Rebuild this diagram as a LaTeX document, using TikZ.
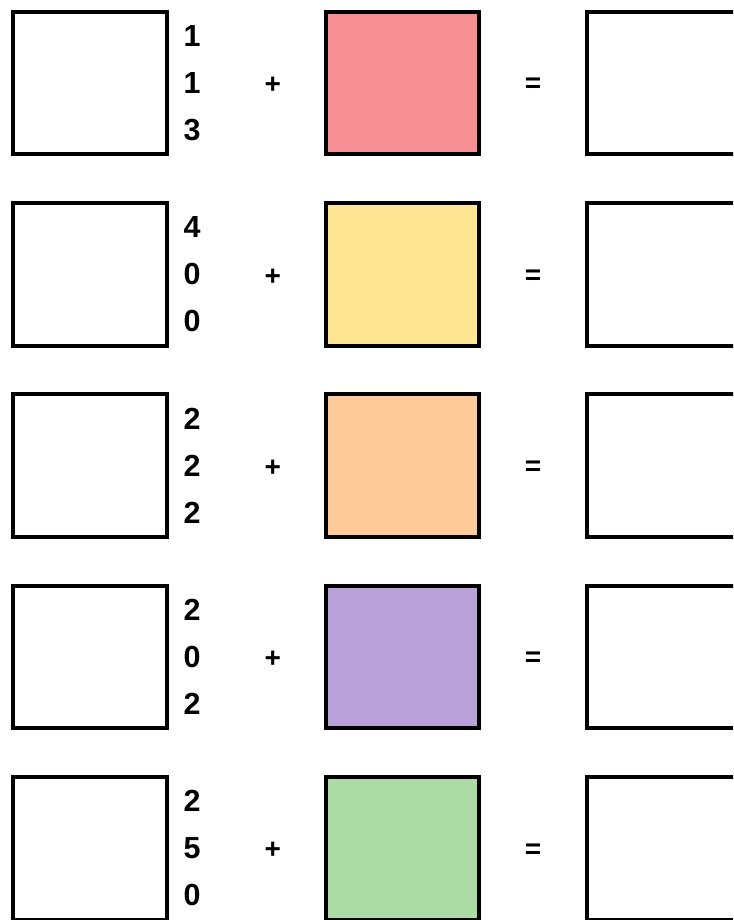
\documentclass[tikz,border=0pt]{standalone}
\usepackage{fontspec}
\setmainfont{Liberation Sans}
\usetikzlibrary{positioning}
\definecolor{addred}{HTML}{F78F93}
\definecolor{addyellow}{HTML}{FFE694}
\definecolor{addorange}{HTML}{FFCA99}
\definecolor{addpurple}{HTML}{B9A1D9}
\definecolor{addgreen}{HTML}{ADDBA5}
\tikzset{
    slot box/.style={
        draw=black,
        line width=4pt,
        minimum width=153.5pt,
        minimum height=142.7pt,
        inner sep=0pt
    },
    digit label/.style={
        font=\bfseries\fontsize{30.5}{30.5}\selectfont,
        inner sep=0pt
    },
    op label/.style={
        font=\bfseries\fontsize{28}{28}\selectfont,
        inner sep=0pt,
        yshift=-2.5pt
    }
}

\begin{document}
\begin{tikzpicture}[x=1pt,y=-1pt]
    \useasboundingbox (0,0) rectangle (733,920);
    \clip (0,0) rectangle (733,920);
    \foreach \row/\da/\db/\dc/\fillcol in {0/1/1/3/addred, 1/4/0/0/addyellow, 2/2/2/2/addorange, 3/2/0/2/addpurple, 4/2/5/0/addgreen}{
        \pgfmathsetmacro\ymid{83.05+191.3*\row}
        % left box, digits, coloured box, right box
        \node[slot box] (in\row) at (89.75,\ymid) {};
        \node[digit label] (dtop\row) at (192,{\ymid-47}) {\da};
        \node[digit label] (dmid\row) at (192,\ymid) {\db};
        \node[digit label] (dbot\row) at (192,{\ymid+47}) {\dc};
        \node[op label] (plus\row) at (272.7,\ymid) {+};
        \node[slot box, fill=\fillcol] (add\row) at (402.5,\ymid) {};
        \node[op label] (eq\row) at (533,\ymid) {=};
        \node[slot box] (out\row) at (663.5,\ymid) {};
    }
\end{tikzpicture}
\end{document}
